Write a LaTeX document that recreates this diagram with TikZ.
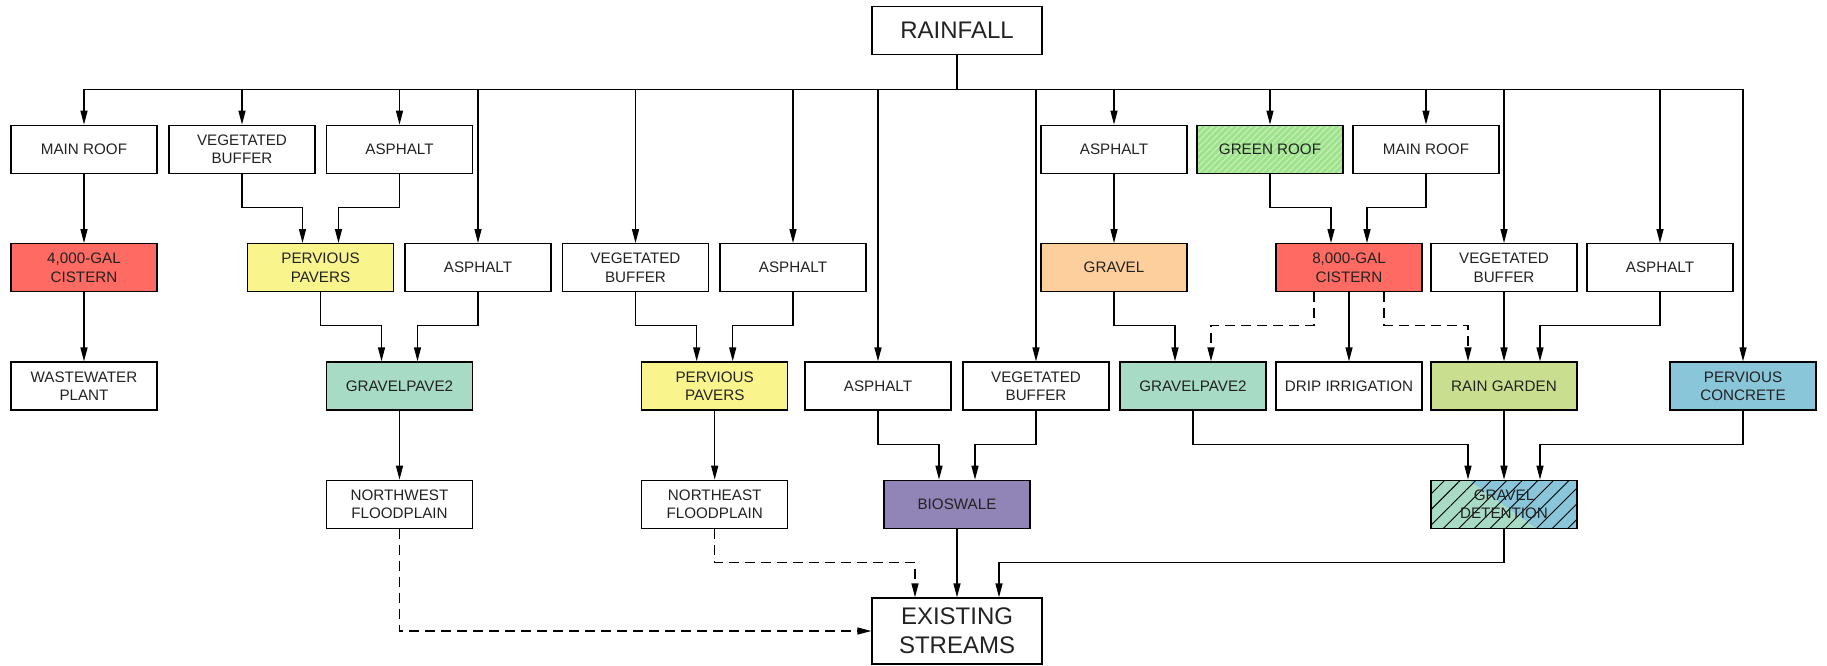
\documentclass[tikz,border=0pt]{standalone}
\usepackage{fontspec}
\setmainfont{Liberation Sans}
\usetikzlibrary{arrows.meta,patterns.meta}
\definecolor{cisternred}{HTML}{FF6A62}
\definecolor{paveryellow}{HTML}{F9F48C}
\definecolor{gpmint}{HTML}{A7DBC5}
\definecolor{gravelpeach}{HTML}{FDCF9C}
\definecolor{greenroof}{HTML}{9DE38B}
\definecolor{greenstripe}{HTML}{C4EEB4}
\definecolor{raingarden}{HTML}{C9DE8E}
\definecolor{concreteblue}{HTML}{8AC6D9}
\definecolor{bioswale}{HTML}{9184B6}
\definecolor{txt}{HTML}{222222}
\tikzset{
  box/.style={draw, line width=1.3pt, minimum width=146pt, minimum height=48pt,
    align=center, inner sep=0pt, text=txt, font=\fontsize{15.2}{18.3}\selectfont},
  bigbox/.style={box, minimum width=170pt, font=\fontsize{24}{28.8}\selectfont},
  conn/.style={line width=1.3pt},
  arr/.style={conn, -{Triangle[length=14pt,width=7pt]}},
  dsh/.style={dash pattern=on 10pt off 6pt},
  redbox/.style={box, fill=cisternred},
  yelbox/.style={box, fill=paveryellow},
  mintbox/.style={box, fill=gpmint},
  peachbox/.style={box, fill=gravelpeach},
  rgbox/.style={box, fill=raingarden},
  bluebox/.style={box, fill=concreteblue},
  purplebox/.style={box, fill=bioswale},
  greenbox/.style={box, fill=greenroof,
    postaction={pattern={Lines[angle=45,distance=4.5pt,line width=1.3pt]}, pattern color=greenstripe},
    postaction={draw, line width=1.3pt}},
  detbox/.style={box, fill=concreteblue,
    path picture={\fill[gpmint] (path picture bounding box.north west) -- ([xshift=38pt]path picture bounding box.north west) -- ([xshift=105pt]path picture bounding box.south west) -- (path picture bounding box.south west) -- cycle;},
    postaction={pattern={Lines[angle=45,distance=11pt,line width=0.9pt]}, pattern color=black},
    postaction={draw, line width=1.3pt}},
}
\begin{document}
\begin{tikzpicture}[x=1pt,y=-1pt]
\useasboundingbox (0,0) rectangle (1827,665);
% nodes
\node[bigbox] (rain) at (957,30.7) {RAINFALL};
% row 1
\node[box] (a1) at (84,149.3) {MAIN ROOF};
\node[box] (b1) at (242,149.3) {VEGETATED\\BUFFER};
\node[box] (c1) at (399.5,149.3) {ASPHALT};
\node[box] (d1) at (1114,149.3) {ASPHALT};
\node[greenbox] (e1) at (1270,149.3) {GREEN ROOF};
\node[box] (f1) at (1426,149.3) {MAIN ROOF};
% row 2
\node[redbox] (a2) at (84,267.7) {4,000-GAL\\CISTERN};
\node[yelbox] (b2) at (320.5,267.7) {PERVIOUS\\PAVERS};
\node[box] (c2) at (478,267.7) {ASPHALT};
\node[box] (d2) at (635.5,267.7) {VEGETATED\\BUFFER};
\node[box] (e2) at (793,267.7) {ASPHALT};
\node[peachbox] (f2) at (1114,267.7) {GRAVEL};
\node[redbox] (g2) at (1349,267.7) {8,000-GAL\\CISTERN};
\node[box] (h2) at (1504,267.7) {VEGETATED\\BUFFER};
\node[box] (i2) at (1660,267.7) {ASPHALT};
% row 3
\node[box] (a3) at (84,386) {WASTEWATER\\PLANT};
\node[mintbox] (b3) at (399.5,386) {GRAVELPAVE2};
\node[yelbox] (c3) at (714.7,386) {PERVIOUS\\PAVERS};
\node[box] (d3) at (878,386) {ASPHALT};
\node[box] (e3) at (1036,386) {VEGETATED\\BUFFER};
\node[mintbox] (f3) at (1193,386) {GRAVELPAVE2};
\node[box] (g3) at (1349,386) {DRIP IRRIGATION};
\node[rgbox] (h3) at (1504,386) {RAIN GARDEN};
\node[bluebox] (i3) at (1743,386) {PERVIOUS\\CONCRETE};
% row 4
\node[box] (b4) at (399.5,504.3) {NORTHWEST\\FLOODPLAIN};
\node[box] (c4) at (714.7,504.3) {NORTHEAST\\FLOODPLAIN};
\node[purplebox] (d4) at (957,504.3) {BIOSWALE};
\node[detbox] (h4) at (1504,504.3) {GRAVEL\\DETENTION};
% streams
\node[bigbox, minimum height=66pt] (st) at (957,631) {EXISTING\\STREAMS};

% helper coordinates
\coordinate (bus) at (0,89.3);
\coordinate (e12) at (0,207.3);
\coordinate (e23) at (0,325.7);
\coordinate (e34) at (0,444.3);
\coordinate (e4s) at (0,562.7);
\coordinate (b2L) at ([xshift=-18pt]b2.north);
\coordinate (b2R) at ([xshift=18pt]b2.north);
\coordinate (b3L) at ([xshift=-18pt]b3.north);
\coordinate (b3R) at ([xshift=18pt]b3.north);
\coordinate (c3L) at ([xshift=-18pt]c3.north);
\coordinate (c3R) at ([xshift=18pt]c3.north);
\coordinate (d4L) at ([xshift=-18pt]d4.north);
\coordinate (d4R) at ([xshift=18pt]d4.north);
\coordinate (f3L) at ([xshift=-18pt]f3.north);
\coordinate (f3R) at ([xshift=18pt]f3.north);
\coordinate (g2L) at ([xshift=-18pt]g2.north);
\coordinate (g2R) at ([xshift=18pt]g2.north);
\coordinate (g2sL) at ([xshift=-35pt]g2.south);
\coordinate (g2sR) at ([xshift=35pt]g2.south);
\coordinate (h3L) at ([xshift=-36pt]h3.north);
\coordinate (h3R) at ([xshift=36pt]h3.north);
\coordinate (h4L) at ([xshift=-36pt]h4.north);
\coordinate (h4R) at ([xshift=36pt]h4.north);
\coordinate (stL) at ([xshift=-42pt]st.north);
\coordinate (stR) at ([xshift=42pt]st.north);

% rainfall bus
\draw[conn] (rain.south) -- (rain |- bus);
\draw[conn] (a1 |- bus) -- (i3 |- bus);
\foreach \n in {a1,b1,c1,d1,e1,f1,c2,d2,e2,h2,i2,d3,e3,i3}
  \draw[arr] (\n |- bus) -- (\n.north);

% straight links
\draw[arr] (a1) -- (a2);
\draw[arr] (a2) -- (a3);
\draw[arr] (b3) -- (b4);
\draw[arr] (c3) -- (c4);
\draw[arr] (d1) -- (f2);
\draw[arr] (g2) -- (g3);
\draw[arr] (h2) -- (h3);
\draw[arr] (h3) -- (h4);
\draw[arr] (d4) -- (st);

% elbow links
\draw[arr] (b1.south) |- (b2L |- e12) -- (b2L);
\draw[arr] (c1.south) |- (b2R |- e12) -- (b2R);
\draw[arr] (b2.south) |- (b3L |- e23) -- (b3L);
\draw[arr] (c2.south) |- (b3R |- e23) -- (b3R);
\draw[arr] (d2.south) |- (c3L |- e23) -- (c3L);
\draw[arr] (e2.south) |- (c3R |- e23) -- (c3R);
\draw[arr] (d3.south) |- (d4L |- e34) -- (d4L);
\draw[arr] (e3.south) |- (d4R |- e34) -- (d4R);
\draw[arr] (e1.south) |- (g2L |- e12) -- (g2L);
\draw[arr] (f1.south) |- (g2R |- e12) -- (g2R);
\draw[arr] (f2.south) |- (f3L |- e23) -- (f3L);
\draw[arr,dsh] (g2sL) |- (f3R |- e23) -- (f3R);
\draw[arr,dsh] (g2sR) |- (h3L |- e23) -- (h3L);
\draw[arr] (i2.south) |- (h3R |- e23) -- (h3R);
\draw[arr] (f3.south) |- (h4L |- e34) -- (h4L);
\draw[arr] (i3.south) |- (h4R |- e34) -- (h4R);
\draw[arr] (h4.south) |- (stR |- e4s) -- (stR);
\draw[arr,dsh] (c4.south) |- (stL |- e4s) -- (stL);
\draw[arr,dsh] (b4.south) |- (st.west);
\end{tikzpicture}
\end{document}
